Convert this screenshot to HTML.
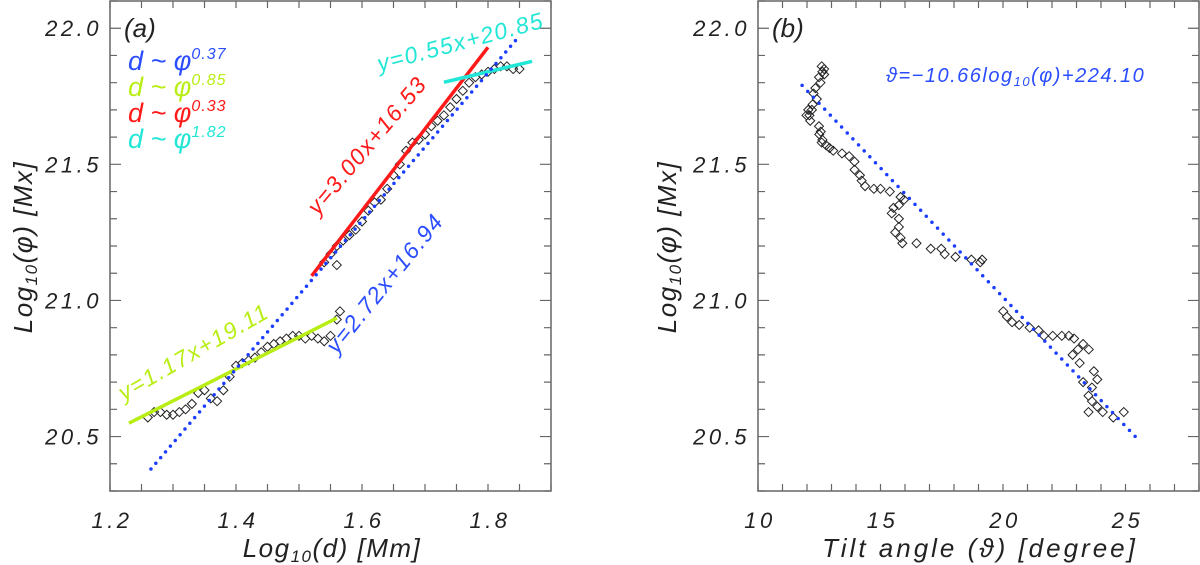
<!DOCTYPE html>
<html><head><meta charset="utf-8"><style>
html,body{margin:0;padding:0;background:#fff;}
svg{display:block;}
text{font-family:"Liberation Sans",sans-serif;font-style:italic;}
</style></head><body>
<svg id="chart" width="1200" height="565" viewBox="0 0 1200 565" xmlns="http://www.w3.org/2000/svg"></svg>
<script>
// ---- Panel (a) data ----
const aScatterX = [1.26,1.27,1.28,1.29,1.30,1.31,1.32,1.33,1.34,1.35,1.36,1.37,1.38,1.39,1.40,1.41,1.42,1.43,1.44,1.45,1.46,1.47,1.48,1.49,1.50,1.51,1.52,1.53,1.54,1.55,1.56,1.565,
 1.54,1.55,1.56,1.57,1.58,1.59,1.60,1.61,1.62,1.63,1.64,1.65,1.66,1.67,1.68,1.69,1.70,1.71,1.72,1.73,1.74,1.75,1.76,1.77,1.78,1.79,1.80,1.81,1.82,1.83,1.84,1.85,1.56];
const aScatterY = [20.57,20.59,20.59,20.58,20.58,20.59,20.60,20.62,20.66,20.67,20.64,20.63,20.67,20.72,20.76,20.77,20.78,20.79,20.81,20.83,20.84,20.85,20.86,20.87,20.87,20.86,20.87,20.86,20.85,20.87,20.93,20.96,
 21.14,21.17,21.20,21.22,21.24,21.26,21.29,21.33,21.36,21.37,21.41,21.46,21.50,21.55,21.58,21.59,21.61,21.64,21.66,21.68,21.71,21.74,21.77,21.80,21.82,21.83,21.84,21.85,21.86,21.86,21.85,21.85,21.13];
const fitNames = ["green","red","cyan","blue"];
const fitSlope = [1.17,3.00,0.55,2.72];
const fitIntercept = [19.11,16.53,20.85,16.94];
const fitXStart = [1.23,1.52,1.73,1.265];
const fitXEnd = [1.56,1.80,1.87,1.85];
const fitColors = ["#b8ee14","#ff1a1a","#22e6d6","#1a3dff"];
const legendExps = ["0.37","0.85","0.33","1.82"];
const legendColors = ["#2a4dff","#b8ee14","#ff1a1a","#22e6d6"];
const aXTicks = [1.2,1.4,1.6,1.8];
const aXTickLabels = ["1.2","1.4","1.6","1.8"];
const yTicks = [20.5,21.0,21.5,22.0];
const yTickLabels = ["20.5","21.0","21.5","22.0"];
// ---- Panel (b) data ----
const bScatterX = [12.6,12.63,12.7,12.49,12.34,12.27,12.23,12.05,11.98,12.13,12.49,12.56,12.63,12.78,12.92,13.07,13.43,13.72,13.94,13.94,14.16,14.23,14.37,14.73,15.0,15.38,15.82,15.96,15.75,15.53,15.46,15.75,15.75,15.6,15.82,15.89,16.47,17.05,17.48,17.62,18.06,18.71,19.15,19.07,20.01,20.16,20.37,20.66,21.09,21.45,21.67,22.03,22.40,22.69,22.9,23.27,23.5,23.06,22.84,23.13,23.71,23.85,23.27,23.63,23.49,23.63,23.85,23.49,24.07,24.5,24.93,12.55,12.4,12.2,12.1,12.5,12.6,12.7];
const bScatterY = [21.86,21.84,21.83,21.82,21.78,21.76,21.72,21.70,21.68,21.66,21.64,21.62,21.59,21.57,21.56,21.55,21.54,21.53,21.51,21.48,21.46,21.44,21.42,21.41,21.41,21.40,21.38,21.37,21.35,21.34,21.32,21.30,21.27,21.25,21.23,21.21,21.21,21.19,21.19,21.17,21.16,21.15,21.15,21.14,20.96,20.94,20.92,20.91,20.90,20.89,20.87,20.87,20.87,20.87,20.86,20.84,20.82,20.82,20.80,20.77,20.74,20.71,20.70,20.68,20.65,20.63,20.61,20.59,20.59,20.57,20.59,21.80,21.74,21.70,21.68,21.61,21.58,21.85];
const bFitX = [11.8,25.4];
const bFitY = [21.79,20.50];
const bXTicks = [10,15,20,25];
const bXTickLabels = ["10","15","20","25"];

const NS="http://www.w3.org/2000/svg";
const svg=document.getElementById('chart');
function mk(tag,attrs,parent){const e=document.createElementNS(NS,tag);for(const k in attrs)e.setAttribute(k,attrs[k]);(parent||svg).appendChild(e);return e;}

const TOP=1,BOT=491,YMIN=20.3,YMAX=22.1;
function yS(v){return BOT-(v-YMIN)/(YMAX-YMIN)*(BOT-TOP);}
function makeX(x0,x1,d0,d1){return v=>x0+(v-d0)/(d1-d0)*(x1-x0);}
const axA=makeX(110,551,1.2,1.9);
const axB=makeX(758,1199,10,28);

function frame(g,x0,x1,xMinor,xa){
  const r=mk('rect',{x:x0,y:TOP,width:x1-x0,height:BOT-TOP,fill:'none',stroke:'#666','stroke-width':1.5},g);
  
  
  for(let v=20.3;v<=22.101;v+=0.1){
    const y=yS(v);const major=Math.abs(v*2-Math.round(v*2))<1e-6;
    const L=major?11:7;
    const t=mk('path',{d:`M${x0} ${y}h${L}M${x1} ${y}h${-L}`,stroke:'#666','stroke-width':1.2},g);
    
    
  }
  xMinor.forEach(v=>{const x=xa(v);
    const t=mk('path',{d:`M${x} ${BOT}v-7M${x} ${TOP}v7`,stroke:'#666','stroke-width':1.2},g);
    
    });
  yTicks.forEach((v,i)=>{
    const t=mk('text',{x:x0-8,y:yS(v)+8,'text-anchor':'end','font-size':22,fill:'#222','letter-spacing':'3.5'},g);
    t.textContent=yTickLabels[i];
    
    
  });
}
function diamonds(g,xs,ys,xa){
  xs.forEach((xv,i)=>{const x=xa(xv),y=yS(ys[i]);
    const p=mk('path',{d:`M${x} ${y-4.5}L${x+4.5} ${y}L${x} ${y+4.5}L${x-4.5} ${y}Z`,fill:'none',stroke:'#222','stroke-width':1},g);
    
    });
}

// Panel A
const gA=mk('g',{});


const aMinor=[];for(let v=1.2;v<=1.9001;v+=0.05)aMinor.push(+v.toFixed(2));
frame(gA,110,551,aMinor,axA);
aXTicks.forEach((v,i)=>{const t=mk('text',{x:axA(v)+2,y:528,'text-anchor':'middle','font-size':22,fill:'#222','letter-spacing':'3.5'},gA);
  t.textContent=aXTickLabels[i];
  
  });
let t=mk('text',{x:332,y:557,'text-anchor':'middle','font-size':26,fill:'#222','font-family':'Liberation Serif','letter-spacing':'1.5'},gA);
t.innerHTML='Log<tspan font-size="17" dy="5">10</tspan><tspan dy="-5">(d)  [Mm]</tspan>';


t=mk('text',{x:0,y:0,'text-anchor':'middle','font-size':26,fill:'#222','font-family':'Liberation Serif','letter-spacing':'1.5',transform:'translate(32,247) rotate(-90)'},gA);
t.innerHTML='Log<tspan font-size="17" dy="5">10</tspan><tspan dy="-5">(φ)  [Mx]</tspan>';


diamonds(gA,aScatterX,aScatterY,axA);
fitNames.forEach((n,i)=>{
  const x1=fitXStart[i],x2=fitXEnd[i];
  const y1=fitSlope[i]*x1+fitIntercept[i],y2=fitSlope[i]*x2+fitIntercept[i];
  const a={x1:axA(x1),y1:yS(y1),x2:axA(x2),y2:yS(y2),stroke:fitColors[i]};
  if(n==='blue'){a['stroke-width']=3.5;a['stroke-dasharray']='0 7.5';a['stroke-linecap']='round';}
  else a['stroke-width']=3.5;
  const l=mk('line',a,gA);
  
  
});
t=mk('text',{x:124,y:37,'font-size':26,fill:'#222','font-family':'Liberation Serif'},gA);t.textContent='(a)';


legendExps.forEach((e,i)=>{
  const tx=mk('text',{x:128,y:70+i*26,'font-size':27,fill:legendColors[i],'font-family':'Liberation Serif'},gA);
  tx.innerHTML='d ~ φ<tspan font-size="16" dy="-11" font-family="Liberation Sans" letter-spacing="1">'+e+'</tspan>';
  
  
});
function rotLabel(g,txt,xd,yd,ang,col,name){
  const x=axA(xd),y=yS(yd);
  const tx=mk('text',{x:x,y:y,'font-size':23,fill:col,transform:`rotate(${ang} ${x} ${y})`,'letter-spacing':'1.5'},g);
  tx.textContent=txt;
  
  
}
rotLabel(gA,'y=3.00x+16.53',1.53,21.31,-50,'#ff1a1a','fit-label-red');
rotLabel(gA,'y=2.72x+16.94',1.56,20.80,-51,'#2a4dff','fit-label-blue');
rotLabel(gA,'y=1.17x+19.11',1.222,20.63,-30,'#b8ee14','fit-label-green');
rotLabel(gA,'y=0.55x+20.85',1.628,21.84,-15,'#22e6d6','fit-label-cyan');

// Panel B
const gB=mk('g',{});


const bMinor=[];for(let v=10;v<=28;v+=1)bMinor.push(v);
frame(gB,758,1199,bMinor,axB);
bXTicks.forEach((v,i)=>{const tt=mk('text',{x:axB(v)+2,y:528,'text-anchor':'middle','font-size':22,fill:'#222','letter-spacing':'3.5'},gB);
  tt.textContent=bXTickLabels[i];
  
  });
t=mk('text',{x:980,y:557,'text-anchor':'middle','font-size':26,fill:'#222','font-family':'Liberation Serif','letter-spacing':'3'},gB);
t.textContent='Tilt angle (ϑ) [degree]';


t=mk('text',{x:0,y:0,'text-anchor':'middle','font-size':26,fill:'#222','font-family':'Liberation Serif','letter-spacing':'1.5',transform:'translate(676,247) rotate(-90)'},gB);
t.innerHTML='Log<tspan font-size="17" dy="5">10</tspan><tspan dy="-5">(φ)  [Mx]</tspan>';


diamonds(gB,bScatterX,bScatterY,axB);
const bl=mk('line',{x1:axB(bFitX[0]),y1:yS(bFitY[0]),x2:axB(bFitX[1]),y2:yS(bFitY[1]),stroke:'#1a3dff','stroke-width':3.5,'stroke-dasharray':'0 8.2','stroke-linecap':'round'},gB);


t=mk('text',{x:772,y:37,'font-size':26,fill:'#222','font-family':'Liberation Serif'},gB);t.textContent='(b)';


t=mk('text',{x:886,y:82,'font-size':20,fill:'#2a4dff','letter-spacing':'1.5'},gB);
t.innerHTML='ϑ=−10.66log<tspan font-size="13" dy="4">10</tspan><tspan dy="-4">(φ)+224.10</tspan>';


</script>
</body></html>
